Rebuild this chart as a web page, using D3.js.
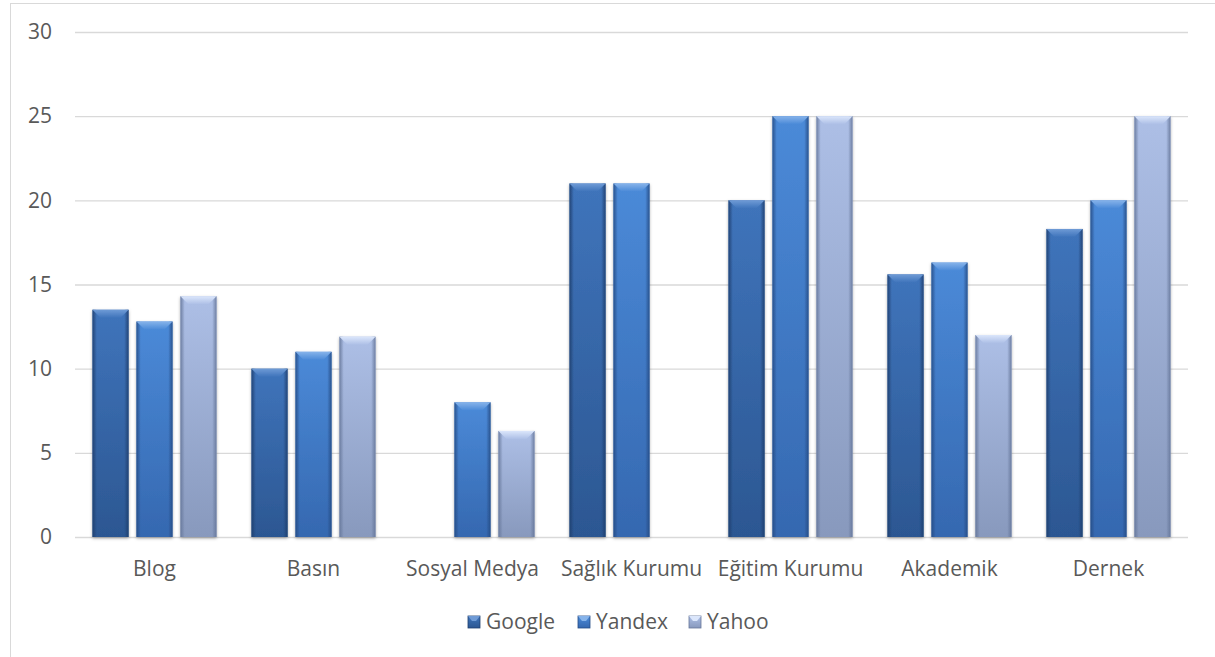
<!DOCTYPE html>
<html>
<head>
<meta charset="utf-8">
<script src="https://cdn.jsdelivr.net/npm/d3@7"></script>
<style>
  body { margin: 0; background: #fff; }
  svg text { font-family: "Open Sans", "Noto Sans", sans-serif; fill: #595959; }
</style>
</head>
<body>
<div id="chart"></div>
<script>
// data
const categories = ["Blog", "Basın", "Sosyal Medya", "Sağlık Kurumu", "Eğitim Kurumu", "Akademik", "Dernek"];
const seriesNames = ["Google", "Yandex", "Yahoo"];
const google = [13.5, 10, 0, 21, 20, 15.6, 18.3];
const yandex = [12.8, 11, 8, 21, 25, 16.3, 20];
const yahoo  = [14.3, 11.9, 6.3, 0, 25, 12, 25];
const yTicks = [0, 5, 10, 15, 20, 25, 30];

const W = 1215, H = 657;
const margin = {top: 32, right: 27, bottom: 120, left: 75};
const width = W - margin.left - margin.right;
const height = H - margin.top - margin.bottom;

const svg = d3.select("#chart").append("svg")
  .attr("width", W).attr("height", H);

// chart border
svg.append("rect")
  .attr("x", 10.5).attr("y", 3.5)
  .attr("width", W + 20).attr("height", H + 20)
  .attr("fill", "none").attr("stroke", "#d9d9d9");

const colors = {
  Google: ["#3f74bb", "#2c5792", "#1f3f6e", "#6f9bd6"],
  Yandex: ["#4b8ad8", "#3568b0", "#254c85", "#86b3ea"],
  Yahoo:  ["#adbfe6", "#8899bd", "#66779a", "#dbe6fb"]
};

const defs = svg.append("defs");
seriesNames.forEach(s => {
  const g = defs.append("linearGradient").attr("id", "g-" + s)
    .attr("x1", 0).attr("y1", 0).attr("x2", 0).attr("y2", 1);
  g.append("stop").attr("offset", "0%").attr("stop-color", colors[s][0]);
  g.append("stop").attr("offset", "100%").attr("stop-color", colors[s][1]);
  const side = defs.append("linearGradient").attr("id", "s-" + s)
    .attr("x1", 0).attr("y1", 0).attr("x2", 1).attr("y2", 0);
  side.append("stop").attr("offset", "0%").attr("stop-color", colors[s][2]).attr("stop-opacity", 0.9);
  side.append("stop").attr("offset", "12%").attr("stop-color", colors[s][2]).attr("stop-opacity", 0);
  side.append("stop").attr("offset", "88%").attr("stop-color", colors[s][2]).attr("stop-opacity", 0);
  side.append("stop").attr("offset", "100%").attr("stop-color", colors[s][2]).attr("stop-opacity", 0.9);
  const top = defs.append("linearGradient").attr("id", "t-" + s)
    .attr("x1", 0).attr("y1", 0).attr("x2", 0).attr("y2", 1);
  top.append("stop").attr("offset", "0%").attr("stop-color", colors[s][3]);
  top.append("stop").attr("offset", "100%").attr("stop-color", colors[s][0]);
});
const shadow = defs.append("filter").attr("id", "shadow")
  .attr("x", "-20%").attr("y", "-5%").attr("width", "140%").attr("height", "115%");
shadow.append("feDropShadow").attr("dx", 0).attr("dy", 1.5).attr("stdDeviation", 1.5)
  .attr("flood-color", "#000").attr("flood-opacity", 0.3);

const g = svg.append("g").attr("transform", `translate(${margin.left},${margin.top})`);

const x = d3.scaleBand().domain(categories).range([0, width]).padding(0);
const x1 = d3.scaleBand().domain(seriesNames).range([0, 124]).paddingInner(0.18);
const y = d3.scaleLinear().domain([0, 30]).range([height, 0]);

// gridlines
g.append("g")
  .call(d3.axisLeft(y).tickValues(yTicks).tickSize(-width).tickFormat(""))
  .call(a => a.select(".domain").remove())
  .call(a => a.selectAll("line").attr("stroke", "#d9d9d9").attr("stroke-width", 1.3));

// y labels
g.append("g")
  .call(d3.axisLeft(y).tickValues(yTicks).tickSize(0).tickPadding(23))
  .call(a => a.select(".domain").remove())
  .call(a => a.selectAll("text").style("font-size", "21px").attr("fill", "#595959"));

// x labels
g.append("g")
  .attr("transform", `translate(0,${height})`)
  .call(d3.axisBottom(x).tickSize(0).tickPadding(24))
  .call(a => a.select(".domain").remove())
  .call(a => a.selectAll("text").style("font-size", "21px").attr("fill", "#595959"));

const rows = categories.map((c, i) => ({
  cat: c,
  vals: [{s: "Google", v: google[i]}, {s: "Yandex", v: yandex[i]}, {s: "Yahoo", v: yahoo[i]}]
}));

const grp = g.selectAll(".grp").data(rows).join("g")
  .attr("transform", d => `translate(${x(d.cat) + (x.bandwidth() - 124) / 2},0)`);

const bar = grp.selectAll(".bar").data(d => d.vals.filter(v => v.v > 0)).join("g")
  .attr("filter", "url(#shadow)");

bar.append("rect")
  .attr("x", d => x1(d.s)).attr("y", d => y(d.v))
  .attr("width", x1.bandwidth()).attr("height", d => y(0) - y(d.v))
  .attr("fill", d => `url(#g-${d.s})`);
bar.append("rect")
  .attr("x", d => x1(d.s)).attr("y", d => y(d.v))
  .attr("width", x1.bandwidth()).attr("height", d => y(0) - y(d.v))
  .attr("fill", d => `url(#s-${d.s})`);
// top bevel
bar.append("path")
  .attr("d", d => {
    const x0 = x1(d.s), w = x1.bandwidth(), t = y(d.v), b = 8;
    return `M${x0},${t}L${x0 + w},${t}L${x0 + w - b},${t + b}L${x0 + b},${t + b}Z`;
  })
  .attr("fill", d => `url(#t-${d.s})`);

// legend
const legend = svg.append("g").attr("transform", "translate(468,622)");
const legX = [0, 110, 221];
seriesNames.forEach((s, i) => {
  const lg = legend.append("g").attr("transform", `translate(${legX[i]},0)`);
  lg.append("rect").attr("x", 0).attr("y", -6).attr("width", 12).attr("height", 12)
    .attr("fill", `url(#g-${s})`).attr("stroke", colors[s][2]).attr("stroke-width", 0.8);
  lg.append("path").attr("d", "M0,-6L12,-6L8,-1L4,-1Z").attr("fill", colors[s][3]);
  lg.append("text").attr("x", 18).attr("y", 0).attr("dy", "0.35em")
    .style("font-size", "21px").text(s);
});
</script>
</body>
</html>
